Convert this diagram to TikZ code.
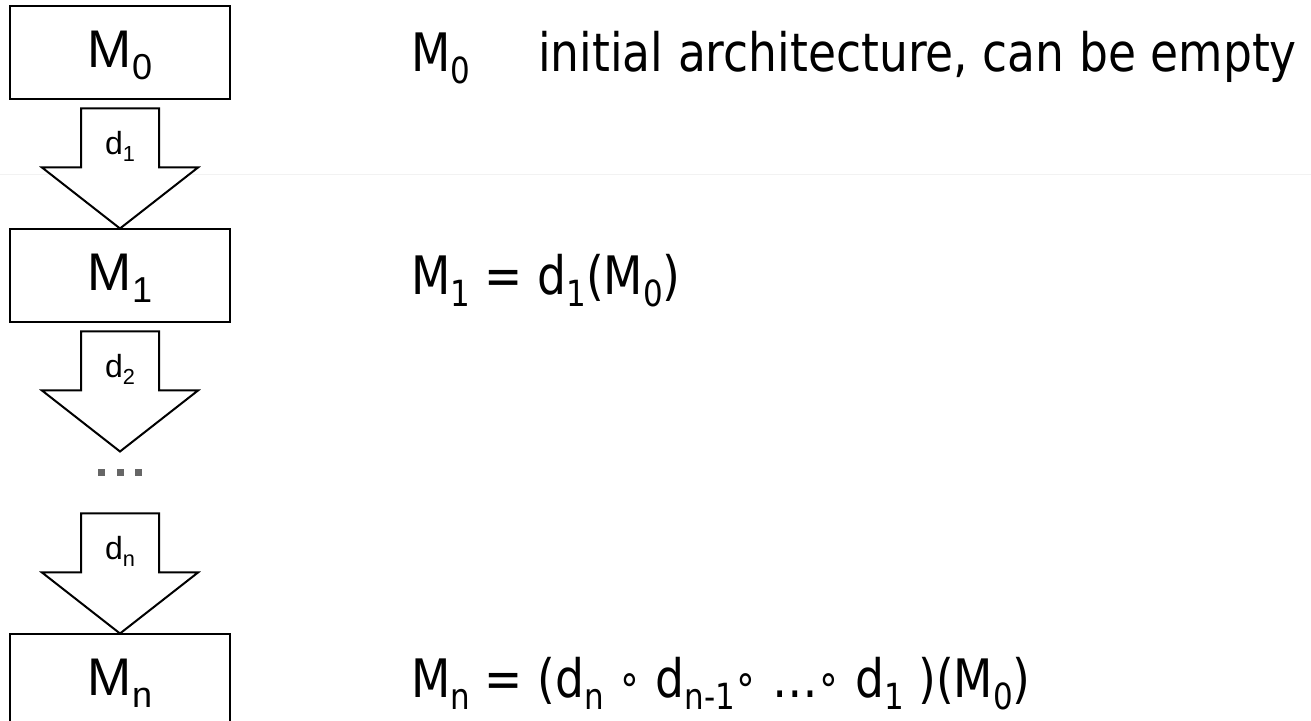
\documentclass[tikz,border=0pt]{standalone}
\usepackage{fontspec}
\usetikzlibrary{calc,positioning}
\newfontfamily\arialfont{Liberation Sans}
\newfontfamily\tahomafont[FakeStretch=0.86]{DejaVu Sans}
\newcommand{\idx}[1]{\raisebox{-0.22em}{\scalebox{0.68}{#1}}}
\newcommand{\ring}{\raisebox{0.08em}{\scalebox{0.8}{∘}}}
\definecolor{dotgray}{HTML}{666666}
\tikzset{
    modelbox/.style={rectangle, draw, line width=2pt, fill=white, minimum width=220pt, minimum height=93pt, inner sep=0pt, text height=29pt, text depth=0pt, font=\arialfont\fontsize{53}{60}\selectfont},
    blockarrow/.style={draw, line width=2pt, fill=white, line join=miter},
    steplabel/.style={anchor=base, inner sep=0pt, font=\arialfont\fontsize{32}{36}\selectfont},
    formula/.style={anchor=base west, inner sep=0pt, font=\tahomafont\fontsize{53}{60}\selectfont}
}

\begin{document}
\begin{tikzpicture}[x=1pt, y=1pt]
\clip (0,0) rectangle (1311,720);

% faint separator
\draw[black!5, line width=1pt] (0,545) -- (1311,545);

\node[modelbox] (M0) at (120,667) {M\idx{0}};
\node[modelbox, below=128pt of M0] (M1) {M\idx{1}};
\node[modelbox, below=310pt of M1] (Mn) {M\idx{n}};

\coordinate (a1) at ($(M0.south)+(0,-8)$);
\coordinate (a2) at ($(M1.south)+(0,-8)$);
\coordinate (a2tip) at ($(a2)+(0,-120)$);
\coordinate (an) at ($(Mn.north)+(0,120)$);

\draw[blockarrow] ($(a1)+(-39,0)$) -- ++(78,0) -- ++(0,-59) -- ++(39,0) -- (M1.north) -- ++(-78,61) -- ++(39,0) -- cycle;
\draw[blockarrow] ($(a2)+(-39,0)$) -- ++(78,0) -- ++(0,-59) -- ++(39,0) -- (a2tip) -- ++(-78,61) -- ++(39,0) -- cycle;
\draw[blockarrow] ($(an)+(-39,0)$) -- ++(78,0) -- ++(0,-59) -- ++(39,0) -- (Mn.north) -- ++(-78,61) -- ++(39,0) -- cycle;

\node[steplabel] (d1) at ($(a1)+(0,-46)$) {d\idx{1}};
\node[steplabel] (d2) at ($(a2)+(0,-46)$) {d\idx{2}};
\node[steplabel] (dn) at ($(an)+(0,-46)$) {d\idx{n}};

% dots between the steps
\foreach \dx in {-18.5,0,18.5}
    \fill[dotgray] ($(a2tip)+(\dx,-21.5)+(-3.5,-3.5)$) rectangle ++(7,7);

\node[formula] (f0) at ($(M0.east)+(180,-19)$) {M\idx{0}};
\node[formula] (f0text) at ($(M0.east)+(307,-19)$) {initial architecture, can be empty};
\node[formula] (f1) at ($(M1.east)+(180,-18.5)$) {M\idx{1} = d\idx{1}(M\idx{0})};
\node[formula] (fn) at ($(Mn.east)+(180,-16.5)$) {M\idx{n} = (d\idx{n} \ring{} d\idx{n-1}\ring{} …\ring{} d\idx{1} )(M\idx{0})};

\end{tikzpicture}
\end{document}
